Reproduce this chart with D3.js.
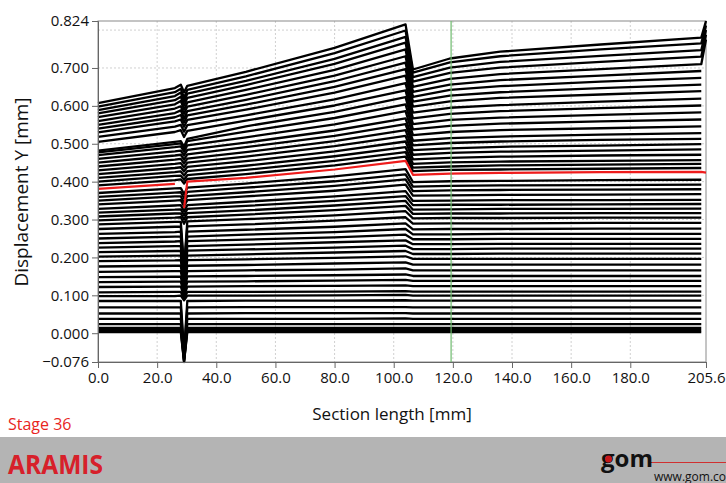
<!DOCTYPE html>
<html><head><meta charset="utf-8">
<script src="https://cdn.jsdelivr.net/npm/d3@7"></script>
<style>body{margin:0;background:#fff;} svg{display:block;font-family:'Open Sans',sans-serif;}</style>
</head><body><svg id="c" width="726" height="483"></svg>
<script>
// Section positions (mm) at which each stage's displacement was read
const sectionX = [0, 26, 28, 29.1, 30.2, 50, 80, 104, 106.5, 119, 136, 170, 204, 205.6];
// Displacement Y (mm) per stage, black curves (top to bottom)
const stageLines = [
[.607,.647,.656,.636,.653,.690,.753,.815,.696,.725,.743,.762,.780,.824],
[.598,.636,.645,.622,.642,.678,.739,.799,.688,.715,.731,.749,.765,.812],
[.589,.626,.635,.612,.632,.666,.724,.782,.676,.701,.716,.732,.747,.800],
[.580,.615,.624,.601,.621,.655,.711,.767,.664,.687,.701,.716,.730,.788],
[.570,.604,.613,.590,.609,.642,.695,.749,.650,.671,.684,.697,.710,.775],
[.560,.593,.599,.579,.598,.629,.680,.731,.637,.656,.668,.680,.692,null],
[.550,.581,.588,.567,.586,.616,.665,.714,.624,.642,.652,.664,.674,null],
[.540,.570,.576,.556,.575,.603,.650,.697,.611,.627,.636,.647,.656,null],
[.530,.559,.564,.545,.563,.590,.635,.680,.598,.612,.621,.630,.639,null],
[.518,.545,.550,.532,.549,.575,.617,.660,.582,.595,.602,.611,.619,null],
[.505,.531,.536,.518,.534,.561,.601,.641,.567,.579,.586,.594,.601,null],
[.482,.505,.507,.492,.513,.546,.584,.623,.552,.563,.569,.576,.583,null],
[.477,.499,.501,.487,.507,.532,.568,.604,.538,.547,.553,.559,.564,null],
[.470,.491,.493,.479,.496,.517,.551,.586,.523,.531,.536,.541,.546,null],
[.460,.480,.482,.469,.484,.503,.535,.567,.508,.515,.519,.524,.528,null],
[.450,.469,.471,.458,.472,.491,.521,.552,.496,.502,.506,.510,.513,null],
[.440,.458,.460,.448,.461,.478,.507,.536,.483,.488,.492,.495,.499,null],
[.430,.447,.449,.437,.450,.466,.494,.521,.471,.476,.479,.482,.485,null],
[.420,.436,.438,.427,.439,.454,.480,.506,.459,.463,.466,.469,.471,null],
[.410,.425,.427,.416,.428,.442,.467,.491,.447,.451,.453,.455,.457,null],
[.400,.415,.416,.405,.417,.431,.455,.478,.437,.440,.443,.445,.447,null],
[.390,.404,.406,.395,.407,.420,.443,.466,.428,.431,.432,.434,.436,null],
[.370,.382,.383,.367,.384,.395,.414,.433,.399,.401,.402,.404,.405,null],
[.360,.371,.372,.356,.373,.384,.401,.419,.387,.389,.390,.391,.392,null],
[.350,.361,.361,.345,.362,.372,.389,.406,.375,.377,.378,.379,.380,null],
[.340,.350,.351,.335,.351,.361,.376,.392,.363,.364,.365,.366,.367,null],
[.328,.337,.338,.322,.338,.347,.361,.375,.349,.350,.351,.351,.352,null],
[.318,.326,.327,.311,.328,.336,.349,.362,.338,.339,.339,.340,.341,null],
[.308,.316,.316,.300,.317,.324,.337,.349,.326,.327,.328,.328,.329,null],
[.298,.305,.306,.289,.306,.313,.325,.336,.315,.316,.316,.317,.317,null],
[.287,.294,.294,.172,.295,.301,.311,.322,.303,.304,.304,.305,.305,null],
[.275,.281,.281,.167,.282,.287,.297,.306,.289,.290,.290,.291,.291,null],
[.262,.267,.268,.161,.268,.273,.281,.290,.274,.275,.275,.276,.276,null],
[.250,.255,.255,.155,.255,.260,.267,.275,.261,.261,.262,.262,.262,null],
[.238,.242,.243,.150,.243,.247,.253,.260,.248,.248,.249,.249,.249,null],
[.226,.230,.230,.145,.230,.234,.240,.245,.235,.235,.236,.236,.236,null],
[.214,.217,.217,.139,.218,.221,.226,.231,.222,.222,.223,.223,.223,null],
[.202,.205,.205,.134,.205,.208,.213,.217,.209,.209,.210,.210,.210,null],
[.190,.192,.193,.128,.193,.195,.199,.203,.196,.196,.196,.196,.196,null],
[.176,.178,.178,.122,.178,.180,.184,.187,.181,.181,.181,.181,.181,null],
[.162,.164,.164,.116,.164,.166,.168,.171,.166,.166,.166,.166,.166,null],
[.148,.149,.149,.110,.150,.151,.153,.155,.151,.151,.151,.151,.151,null],
[.135,.136,.136,.104,.136,.137,.139,.141,.138,.138,.138,.138,.138,null],
[.122,.123,.123,.098,.123,.124,.125,.126,.124,.124,.124,.124,.124,null],
[.108,.109,.109,.092,.109,.109,.110,.111,.110,.110,.110,.110,.110,null],
[.098,.098,.099,.087,.099,.099,.100,.101,.099,.099,.099,.099,.099,null],
[.085,.085,.085,-.050,.085,.086,.086,.087,.086,.086,.086,.086,.086,null],
[.068,.068,.068,-.056,.068,.069,.069,.069,.068,.068,.068,.068,.068,null],
[.052,.052,.052,-.062,.052,.053,.053,.053,.052,.052,.052,.052,.052,null],
[.038,.038,.038,-.066,.038,.038,.038,.039,.038,.038,.038,.038,.038,null],
[.024,.024,.024,-.070,.024,.024,.024,.024,.024,.024,.024,.024,.024,null],
[.014,.014,.014,-.073,.014,.014,.014,.014,.014,.014,.014,.014,.014,null],
[.008,.008,.008,-.075,.008,.008,.008,.008,.008,.008,.008,.008,.008,null],
[.003,.003,.003,-.076,.003,.003,.003,.003,.003,.003,.003,.003,.003,null]
];
// Current stage (red)
const currentStage = [.381,.394,null,.330,.400,.410,.432,.455,.418,.421,.423,.425,.426,.424];
const stageLabel = "Stage 36";
const xTicks = [0,20,40,60,80,100,120,140,160,180,205.6];
const yTicks = [-0.076,0,0.1,0.2,0.3,0.4,0.5,0.6,0.7,0.824];
const xGrid = [20,40,60,80,100,120,140,160,180];
const yGrid = [0.1,0.2,0.3,0.4,0.5,0.6,0.7,0.8];
const markerX = 119.4;

const svg = d3.select("#c");
const x = d3.scaleLinear().domain([0,205.6]).range([98,706]);
const y = d3.scaleLinear().domain([-0.076,0.824]).range([362,21]);

// grid
svg.append("g").selectAll("line").data(xGrid).join("line")
  .attr("x1",d=>x(d)).attr("x2",d=>x(d)).attr("y1",y(0.824)).attr("y2",y(-0.076))
  .attr("stroke","#d0d0d0").attr("stroke-dasharray","2,2");
svg.append("g").selectAll("line").data(yGrid).join("line")
  .attr("x1",x(0)).attr("x2",x(205.6)).attr("y1",d=>y(d)).attr("y2",d=>y(d))
  .attr("stroke","#d0d0d0").attr("stroke-dasharray","2,2");

// frame
svg.append("rect").attr("x",x(0)).attr("y",y(0.824)).attr("width",x(205.6)-x(0)).attr("height",y(-0.076)-y(0.824))
  .attr("fill","none").attr("stroke","#8a8a8a");

const line = d3.line().defined(d=>d[1]!=null).x(d=>x(d[0])).y(d=>y(d[1]));
const toPts = row => sectionX.map((sx,i)=>[sx,row[i]]);

svg.append("g").selectAll("path").data(stageLines).join("path")
  .attr("d",r=>line(toPts(r))).attr("fill","none").attr("stroke","#000")
  .attr("stroke-width",2.3).attr("stroke-linejoin","round");
svg.append("path").attr("d",line(toPts(currentStage))).attr("fill","none")
  .attr("stroke","#ee1c1c").attr("stroke-width",2.2).attr("stroke-linejoin","round");

// marker
svg.append("line").attr("x1",x(markerX)).attr("x2",x(markerX)).attr("y1",y(0.824)).attr("y2",y(-0.076))
  .attr("stroke","#6dba6d").attr("stroke-width",1.2);

// axes
const yAxis = d3.axisLeft(y).tickValues(yTicks).tickFormat(d3.format(".3f")).tickSize(6).tickPadding(3);
const gy = svg.append("g").attr("transform",`translate(${x(0)},0)`).call(yAxis);
const xAxis = d3.axisBottom(x).tickValues(xTicks).tickFormat(d3.format(".1f")).tickSize(6).tickPadding(4);
const gx = svg.append("g").attr("transform",`translate(0,${y(-0.076)})`).call(xAxis);
[gx,gy].forEach(g=>{
  g.selectAll("path,line").attr("stroke","#666");
  g.selectAll("text").attr("font-family","'Open Sans',sans-serif").attr("font-size",15).attr("fill","#111");
});

svg.append("text").attr("x",392).attr("y",420).attr("text-anchor","middle")
  .attr("font-size",17).attr("fill","#111").text("Section length [mm]");
svg.append("text").attr("transform","translate(28,192) rotate(-90)").attr("text-anchor","middle")
  .attr("font-size",19).attr("fill","#111").text("Displacement Y [mm]");

svg.append("text").attr("x",8).attr("y",430).attr("font-size",16).attr("fill","#e8251e").text(stageLabel);

// footer band
svg.append("rect").attr("x",0).attr("y",437).attr("width",726).attr("height",46).attr("fill","#b4b4b4");
svg.append("text").attr("x",8).attr("y",474).attr("font-size",26).attr("font-weight","bold")
  .attr("fill","#d7202a").attr("textLength",95).attr("lengthAdjust","spacingAndGlyphs").text("ARAMIS");
// gom logo
svg.append("line").attr("x1",648).attr("x2",726).attr("y1",462.5).attr("y2",462.5).attr("stroke","#d03030").attr("stroke-width",1);
svg.append("text").attr("x",601).attr("y",467).attr("font-size",24).attr("font-weight","bold").attr("fill","#111").text("gom");
svg.append("circle").attr("cx",608.5).attr("cy",459).attr("r",3.5).attr("fill","#c81818");
svg.append("text").attr("x",654).attr("y",481).attr("font-size",12).attr("fill","#111").text("www.gom.com");
</script></body></html>
